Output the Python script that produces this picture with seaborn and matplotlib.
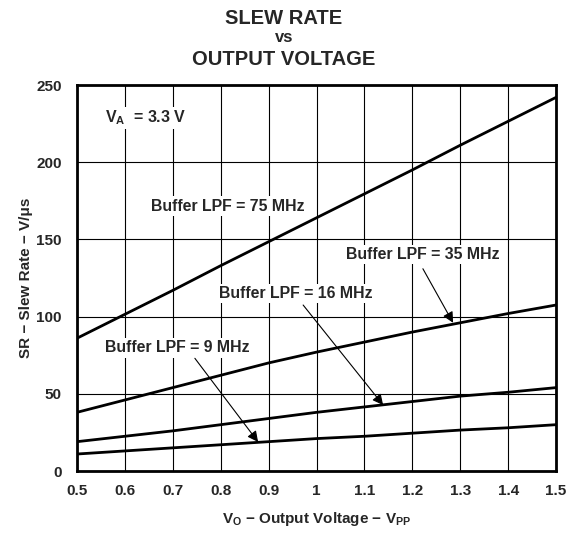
import numpy as np
import pandas as pd
import matplotlib
matplotlib.use("Agg")
import matplotlib.pyplot as plt
import seaborn as sns

# values
vout = [0.5, 0.6, 0.7, 0.8, 0.9, 1.0, 1.1, 1.2, 1.3, 1.4, 1.5]
sr_75 = [86, 101.5, 117, 133, 148.5, 164, 179.5, 195, 211, 226.5, 242]
sr_35 = [38, 46, 54, 62, 70, 77, 83.5, 90, 96, 102, 107.5]
sr_16 = [19, 22.5, 26, 30, 34, 38, 41.5, 45, 48.5, 51, 54]
sr_9 = [11, 13, 15, 17, 19, 21, 22.5, 24.5, 26.5, 28, 30]
series_names = ["75 MHz", "35 MHz", "16 MHz", "9 MHz"]
x_ticks = [0.5, 0.6, 0.7, 0.8, 0.9, 1.0, 1.1, 1.2, 1.3, 1.4, 1.5]
x_tick_labels = ["0.5", "0.6", "0.7", "0.8", "0.9", "1", "1.1", "1.2", "1.3", "1.4", "1.5"]
y_ticks = [0, 50, 100, 150, 200, 250]

df = pd.DataFrame({
    "vout": vout * 4,
    "sr": sr_75 + sr_35 + sr_16 + sr_9,
    "lpf": np.repeat(series_names, len(vout)),
})

sns.set_style("white")
plt.rcParams["font.family"] = ["Liberation Sans", "DejaVu Sans"]
plt.rcParams["font.weight"] = "bold"
plt.rcParams["mathtext.fontset"] = "custom"
plt.rcParams["mathtext.rm"] = "Liberation Sans:bold"
plt.rcParams["mathtext.bf"] = "Liberation Sans:bold"
plt.rcParams["mathtext.it"] = "Liberation Sans:bold"
plt.rcParams["mathtext.default"] = "bf"

fs = 11
fig = plt.figure(figsize=(5.68, 5.37), dpi=100)
ax = fig.add_axes([0.1356, 0.1229, 0.8434, 0.7188])

sns.lineplot(data=df, x="vout", y="sr", units="lpf", estimator=None,
             color="black", lw=2.0, ax=ax, zorder=3, legend=False)

ax.set_xlim(0.5, 1.5)
ax.set_ylim(0, 250)
ax.set_xticks(x_ticks)
ax.set_xticklabels(x_tick_labels)
ax.set_yticks(y_ticks)
ax.tick_params(length=0, labelsize=fs)
ax.tick_params(axis="x", pad=9)
ax.tick_params(axis="y", pad=11)
for lab in ax.get_xticklabels() + ax.get_yticklabels():
    lab.set_fontweight("bold")
ax.grid(True, color="black", lw=0.8)
for s in ax.spines.values():
    s.set_color("black")
    s.set_linewidth(2.0)

ax.set_xlabel(r"$V_O$ − Output Voltage − $V_{PP}$", fontsize=fs,
              fontweight="bold")
ax.set_ylabel("SR − Slew Rate − V/μs", fontsize=fs, fontweight="bold")
ax.xaxis.set_label_coords(0.5, -39 / 386, transform=ax.transAxes)
ax.yaxis.set_label_coords(-44 / 479, 0.5, transform=ax.transAxes)

fig.text(0.5, 0.966, "SLEW RATE", ha="center", va="center", fontsize=14.5,
         fontweight="bold")
fig.text(0.5, 0.931, "vs", ha="center", va="center", fontsize=12, fontweight="bold")
fig.text(0.5, 0.890, "OUTPUT VOLTAGE", ha="center", va="center", fontsize=14.5,
         fontweight="bold")

box = dict(facecolor="white", edgecolor="none", pad=1.5)
ax.text(0.558, 228.6, r"$V_A$  = 3.3 V", ha="left", va="center", fontsize=11.5,
        fontweight="bold", bbox=box, zorder=4)
labels = [
    ("Buffer LPF = 75 MHz", 0.815, 171.6),
    ("Buffer LPF = 35 MHz", 1.222, 140.0),
    ("Buffer LPF = 16 MHz", 0.957, 115.0),
    ("Buffer LPF = 9 MHz", 0.71, 79.7),
]
for txt, x, y in labels:
    ax.text(x, y, txt, ha="center", va="center", fontsize=11.4,
            fontweight="bold", bbox=box, zorder=4)

arrows = [
    ((1.285, 96.0), (1.222, 131.0)),
    ((1.139, 42.7), (0.972, 107.5)),
    ((0.878, 18.8), (0.746, 73.0)),
]
for tip, start in arrows:
    ax.annotate("", xy=tip, xytext=start,
                arrowprops=dict(arrowstyle="-|>", color="black", lw=0.8,
                                mutation_scale=16, shrinkA=0, shrinkB=0),
                zorder=5)

fig.savefig("out.png", dpi=100)
